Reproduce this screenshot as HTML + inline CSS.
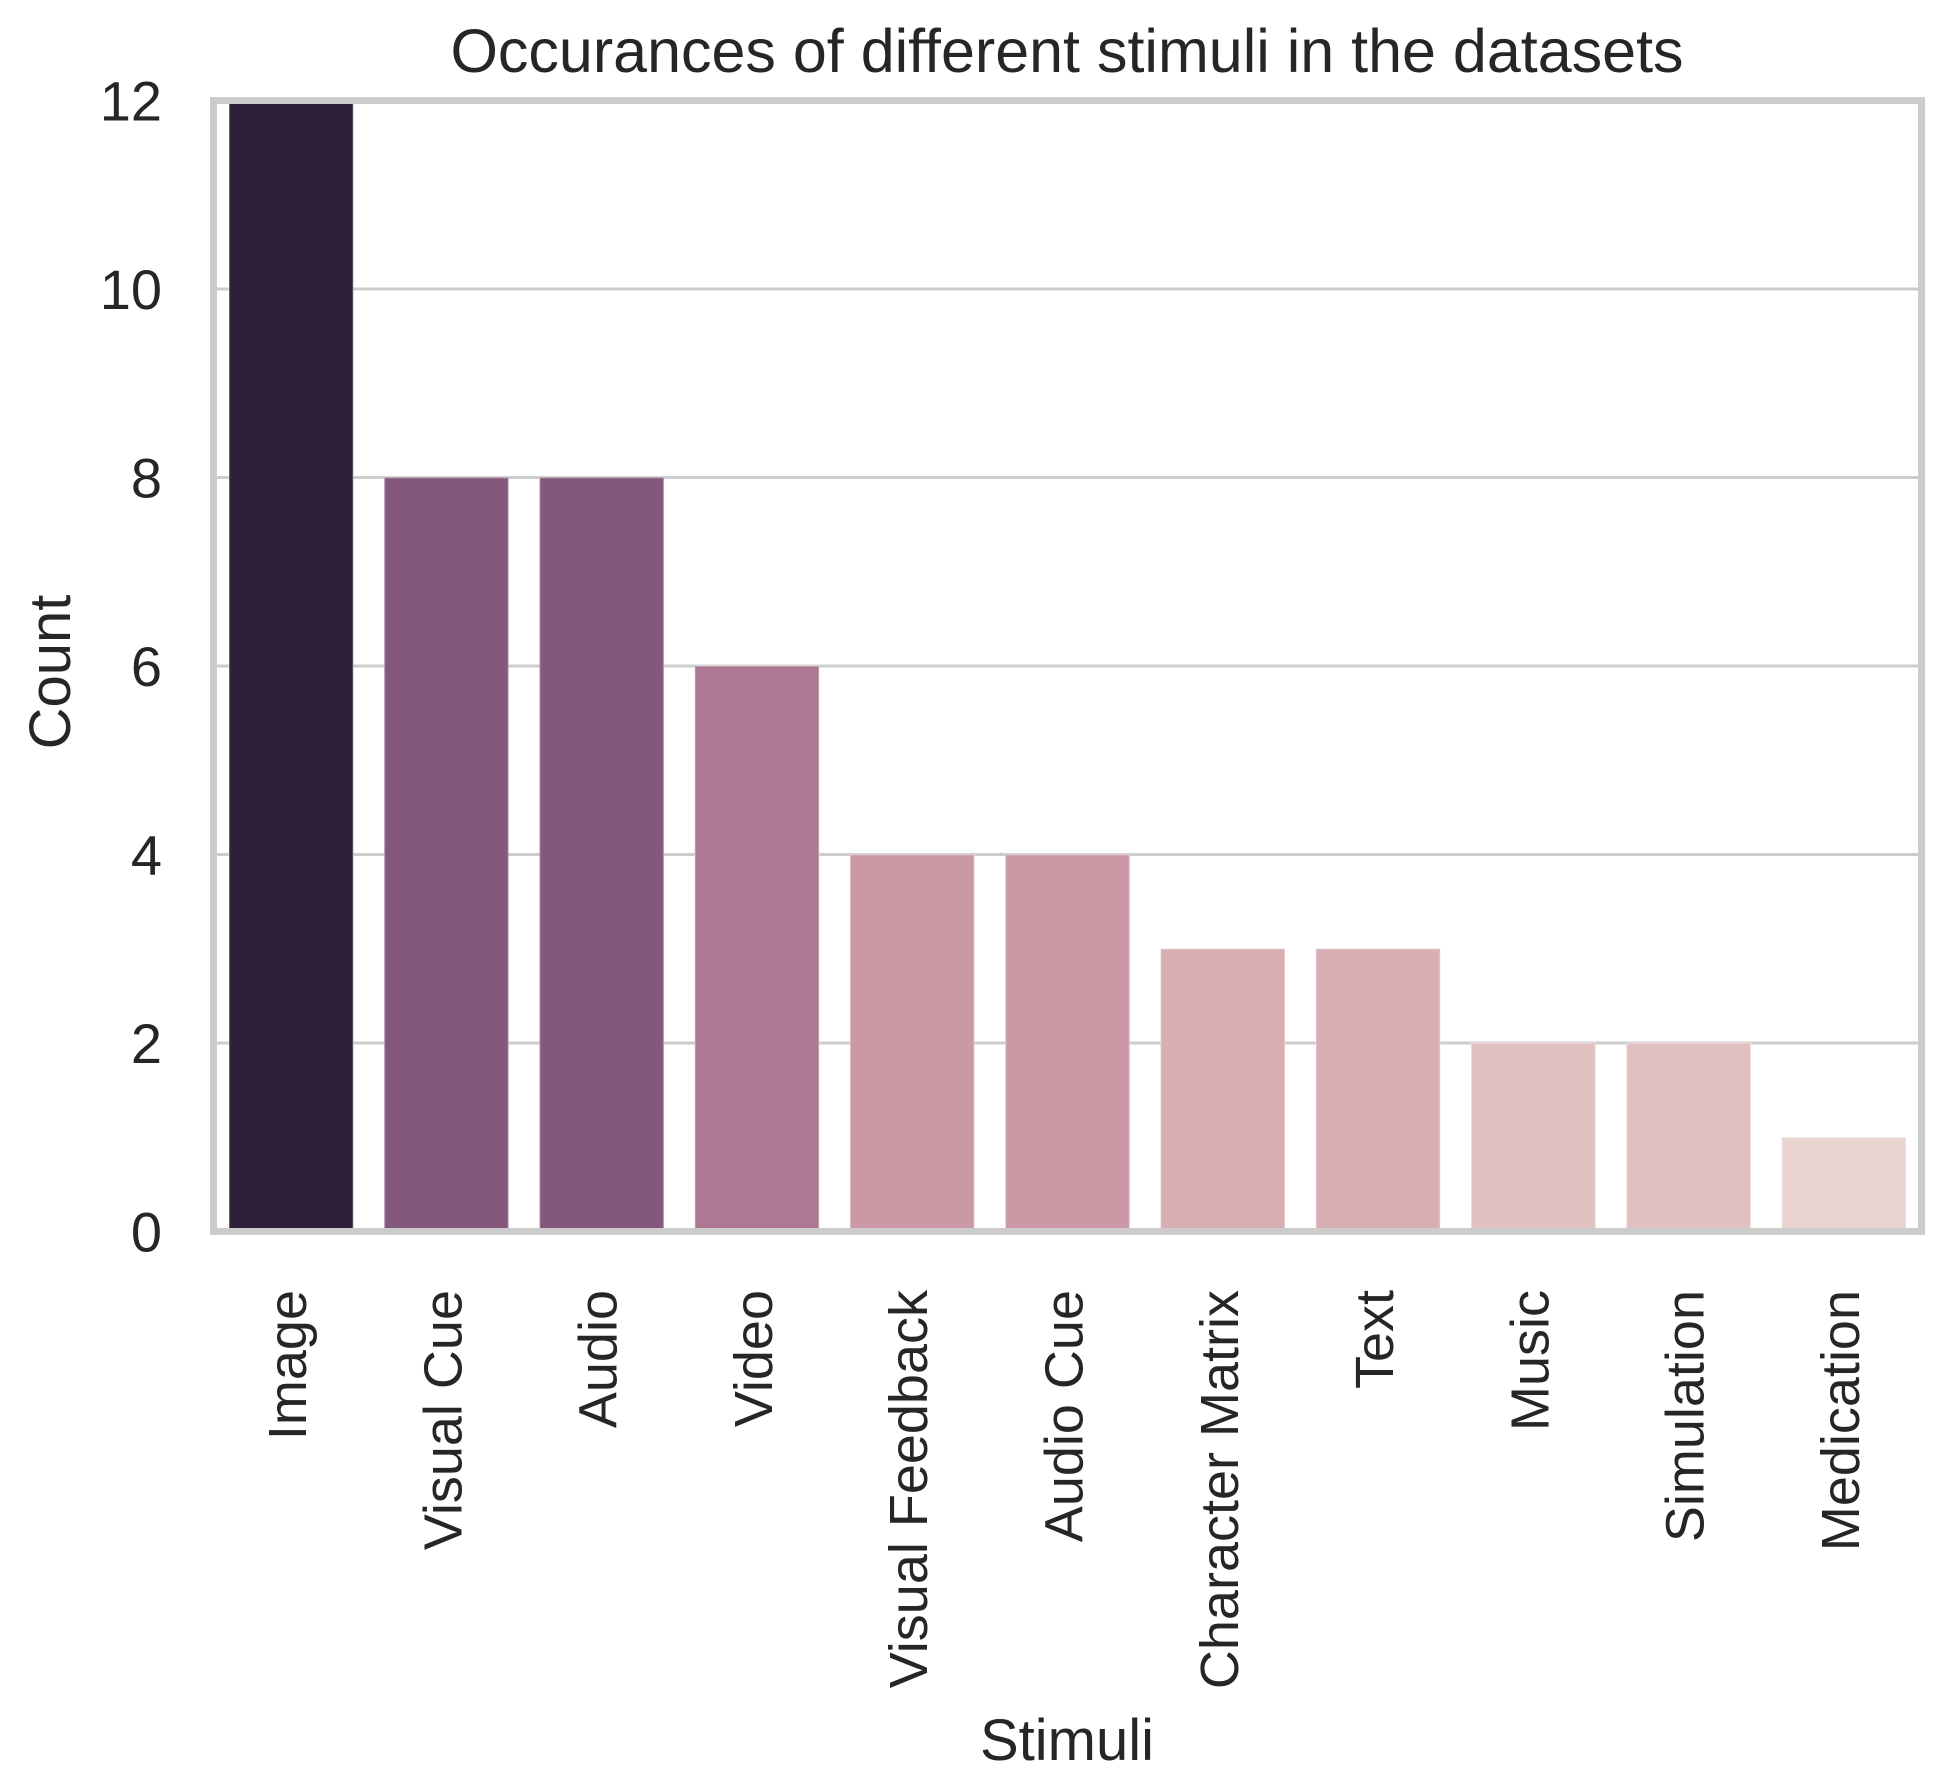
<!DOCTYPE html>
<html><head><meta charset="utf-8"><style>
html,body{margin:0;padding:0;background:#fff;}
svg{display:block;font-family:"Liberation Sans",Arial,sans-serif;}
</style></head><body>
<svg id="chart" width="1943" height="1781" viewBox="0 0 1943 1781" xmlns="http://www.w3.org/2000/svg">
<rect width="1943" height="1781" fill="#fff"/>
<text x="1067" y="72" font-size="61" fill="#262626" text-anchor="middle">Occurances of different stimuli in the datasets</text>
<text transform="translate(70,672) rotate(-90)" font-size="58" fill="#262626" text-anchor="middle">Count</text>
<text x="1067" y="1760" font-size="58" fill="#262626" text-anchor="middle">Stimuli</text>
<g id="grid"></g><g id="bars"></g><g id="yticks"></g><g id="xticks"></g><g id="frame"></g>
</svg>
<script>
const categories = ["Image","Visual Cue","Audio","Video","Visual Feedback","Audio Cue","Character Matrix","Text","Music","Simulation","Medication"];
const counts = [12,8,8,6,4,4,3,3,2,2,1];
const barColors = ["#2e2039","#84587b","#84587b","#ad7893","#cb99a5","#cb99a5","#d6aeb3","#d6aeb3","#e1c0c0","#e1c0c0","#e8d3cf"];
const yTickValues = [0,2,4,6,8,10,12];
const yTickLabels = ["0","2","4","6","8","10","12"];

const NS="http://www.w3.org/2000/svg";
const L=213.5,R=1921.5,T=100.5,B=1231.5,yMax=12;
const band=(R-L)/categories.length;
function x(i){return L+band*i;}
function y(v){return B-(B-T)*v/yMax;}
function mk(tag,attrs,parent,text){const e=document.createElementNS(NS,tag);for(const k in attrs)e.setAttribute(k,attrs[k]);if(text!==undefined)e.textContent=text;parent.appendChild(e);return e;}
const grid=document.getElementById('grid'),bars=document.getElementById('bars'),yt=document.getElementById('yticks'),xt=document.getElementById('xticks'),fr=document.getElementById('frame');
yTickValues.forEach((v,i)=>{
  if(v>0&&v<yMax){const g=mk('line',{x1:L,x2:R,y1:y(v),y2:y(v),stroke:'#cccccc','stroke-width':3},grid);
  
  }
  const t=mk('text',{x:162,y:y(v)+20,'font-size':56,fill:'#262626','text-anchor':'end'},yt,yTickLabels[i]);
  
  
});
categories.forEach((c,i)=>{
  const bw=band*0.8,bx=x(i)+band*0.1;
  const r=mk('rect',{x:bx,y:y(counts[i]),width:bw,height:B-y(counts[i]),fill:barColors[i],stroke:'#ffffff','stroke-opacity':0.25,'stroke-width':2},bars);
  
  
  const cx=x(i)+band/2+15;
  const t=mk('text',{transform:'translate('+cx+',1290) rotate(-90)','font-size':54,fill:'#262626','text-anchor':'end'},xt,c);
  
  
});
const f=mk('rect',{x:L,y:T,width:R-L,height:B-T,fill:'none',stroke:'#cccccc','stroke-width':7},fr);


</script>
</body></html>
